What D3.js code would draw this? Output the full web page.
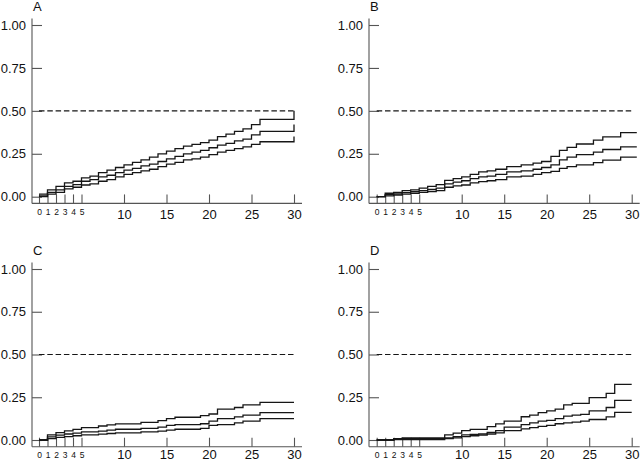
<!DOCTYPE html>
<html>
<head>
<meta charset="utf-8">
<script src="https://cdn.jsdelivr.net/npm/d3@7"></script>
<style>
  html, body { margin: 0; padding: 0; background: #fff; }
  svg { display: block; }
  text { font-family: "Liberation Sans", Arial, sans-serif; fill: #111; }
</style>
</head>
<body>
<svg id="chart" width="640" height="462"></svg>
<script>
// ---------- data ----------
const panelLabels = ["A", "B", "C", "D"];
const yTickValues = [0, 0.25, 0.5, 0.75, 1];
const xSmallTicks = [0, 1, 2, 3, 4, 5];
const xBigTicks = [10, 15, 20, 25, 30];
const refLevel = 0.5;
const xDomain = [0, 30];

const timesA = [0,1,2,3,4,5,6,7,8,9,10,11,12,13,14,15,16,17,18,19,20,21,22,23,24,25,26,30];
const upperA = [0.015,0.04,0.06,0.08,0.09,0.11,0.12,0.14,0.155,0.17,0.185,0.2,0.215,0.23,0.25,0.265,0.28,0.295,0.305,0.315,0.33,0.35,0.365,0.38,0.395,0.42,0.45,0.5];
const middleA = [0.005,0.025,0.04,0.06,0.07,0.09,0.1,0.115,0.125,0.14,0.155,0.165,0.18,0.19,0.205,0.22,0.235,0.25,0.26,0.27,0.285,0.3,0.31,0.325,0.335,0.36,0.38,0.42];
const lowerA = [0,0.015,0.025,0.045,0.055,0.068,0.075,0.09,0.1,0.115,0.13,0.14,0.15,0.16,0.175,0.19,0.2,0.215,0.22,0.23,0.245,0.26,0.27,0.28,0.29,0.305,0.32,0.35];

const timesB = [0,1,2,3,4,5,6,7,8,9,10,11,12,13,14,15.3,17,18.4,19.4,20.5,21.5,22.4,23.5,25.5,26.6,28.7,30.6];
const upperB = [0,0.02,0.025,0.035,0.04,0.05,0.06,0.07,0.095,0.105,0.115,0.13,0.145,0.15,0.16,0.175,0.185,0.195,0.205,0.235,0.27,0.287,0.307,0.33,0.348,0.373,0.373];
const middleB = [0,0.012,0.017,0.024,0.03,0.035,0.042,0.05,0.075,0.085,0.093,0.105,0.115,0.12,0.13,0.145,0.15,0.16,0.17,0.185,0.215,0.23,0.245,0.26,0.275,0.29,0.29];
const lowerB = [0,0.005,0.01,0.015,0.02,0.025,0.03,0.035,0.055,0.063,0.068,0.08,0.088,0.093,0.1,0.115,0.12,0.13,0.14,0.148,0.165,0.175,0.185,0.198,0.213,0.23,0.23];

const timesC = [0,1,2,3,4,5,7,8,9,12,14,15,16,19,20,21,23,24,26,30];
const upperC = [0,0.03,0.043,0.053,0.062,0.072,0.082,0.088,0.094,0.103,0.113,0.125,0.133,0.142,0.152,0.18,0.19,0.205,0.22,0.22];
const middleC = [0,0.018,0.028,0.035,0.04,0.048,0.052,0.058,0.063,0.068,0.075,0.085,0.09,0.095,0.11,0.125,0.135,0.145,0.16,0.16];
const lowerC = [0,0.008,0.015,0.02,0.025,0.03,0.034,0.038,0.042,0.047,0.052,0.058,0.063,0.068,0.085,0.09,0.1,0.11,0.125,0.125];

const timesD = [0,2,3,8,9,10,11,12,13,14,15,17,18,19,20,21,22,23,24,25,27,28,30];
const upperD = [0,0.008,0.012,0.03,0.04,0.055,0.062,0.062,0.078,0.094,0.11,0.136,0.146,0.16,0.17,0.18,0.205,0.214,0.214,0.248,0.273,0.325,0.325];
const middleD = [0,0.005,0.008,0.012,0.02,0.03,0.033,0.035,0.045,0.055,0.075,0.09,0.1,0.11,0.115,0.125,0.14,0.145,0.15,0.17,0.19,0.232,0.232];
const lowerD = [0,0.003,0.003,0.008,0.012,0.02,0.025,0.028,0.035,0.042,0.055,0.065,0.072,0.08,0.085,0.095,0.1,0.105,0.11,0.12,0.135,0.162,0.162];

const panelData = [
  { label: panelLabels[0], times: timesA, series: [upperA, middleA, lowerA] },
  { label: panelLabels[1], times: timesB, series: [upperB, middleB, lowerB] },
  { label: panelLabels[2], times: timesC, series: [upperC, middleC, lowerC] },
  { label: panelLabels[3], times: timesD, series: [upperD, middleD, lowerD] }
];

// ---------- layout ----------
const cols = [
  { axisX: 32, x0: 39, x1: 294 },
  { axisX: 369, x0: 376.7, x1: 631.7 }
];
const rows = [
  { y0: 196.7, y1: 25, bigPad: 6.5 },
  { y0: 440, y1: 269, bigPad: 3 }
];

const svg = d3.select("#chart");
const axisColor = "#555";
const lineColor = "#161616";

panelData.forEach((p, i) => {
  const c = cols[i % 2], r = rows[Math.floor(i / 2)];
  const x = d3.scaleLinear().domain(xDomain).range([c.x0, c.x1]);
  const y = d3.scaleLinear().domain([0, 1]).range([r.y0, r.y1]);
  const xAxisY = r.y0 + 6.7;
  const g = svg.append("g");

  // axis lines
  g.append("line")
    .attr("x1", c.axisX).attr("x2", c.axisX)
    .attr("y1", y(1) - 6.5).attr("y2", xAxisY)
    .attr("stroke", axisColor).attr("stroke-width", 1.1);
  g.append("line")
    .attr("x1", c.axisX).attr("x2", c.x1 + 8)
    .attr("y1", xAxisY).attr("y2", xAxisY)
    .attr("stroke", axisColor).attr("stroke-width", 1.1);

  // y axis
  const yAx = g.append("g")
    .attr("transform", `translate(${c.axisX},0)`)
    .call(d3.axisLeft(y).tickValues(yTickValues).tickFormat(d3.format(".2f"))
      .tickSize(-10).tickPadding(6));
  yAx.select(".domain").remove();
  yAx.selectAll(".tick line").attr("stroke", axisColor).attr("stroke-width", 1.1);
  yAx.selectAll(".tick text").attr("font-size", 13).attr("font-family", null).style("fill", "#111");

  // x axis small ticks
  const xs = g.append("g")
    .attr("transform", `translate(0,${xAxisY})`)
    .call(d3.axisBottom(x).tickValues(xSmallTicks).tickFormat(d3.format("d"))
      .tickSize(-9).tickPadding(5.5));
  xs.select(".domain").remove();
  xs.selectAll(".tick line").attr("stroke", axisColor).attr("stroke-width", 1.1);
  xs.selectAll(".tick text").attr("font-size", 8.5).attr("font-family", null).style("fill", "#111");

  // x axis big ticks
  const xb = g.append("g")
    .attr("transform", `translate(0,${xAxisY})`)
    .call(d3.axisBottom(x).tickValues(xBigTicks).tickFormat(d3.format("d"))
      .tickSize(-9).tickPadding(r.bigPad));
  xb.select(".domain").remove();
  xb.selectAll(".tick line").attr("stroke", axisColor).attr("stroke-width", 1.1);
  xb.selectAll(".tick text").attr("font-size", 13).attr("font-family", null).style("fill", "#111");

  // dashed reference line
  g.append("line")
    .attr("x1", x(xDomain[0])).attr("x2", x(xDomain[1]))
    .attr("y1", y(refLevel)).attr("y2", y(refLevel))
    .attr("stroke", lineColor).attr("stroke-width", 1.2)
    .attr("stroke-dasharray", "5.5,2.8");

  // step curves
  const line = d3.line()
    .x(d => x(d[0])).y(d => y(d[1]))
    .curve(d3.curveStepAfter);
  p.series.forEach(vals => {
    const pts = p.times.map((t, k) => [t, vals[k]]);
    g.append("path")
      .attr("d", line(pts))
      .attr("fill", "none")
      .attr("stroke", lineColor)
      .attr("stroke-width", 1.3);
  });

  // panel letter
  g.append("text")
    .attr("x", c.axisX + 1)
    .attr("y", y(1) - 14)
    .attr("font-size", 13)
    .text(p.label);
});
</script>
</body>
</html>
